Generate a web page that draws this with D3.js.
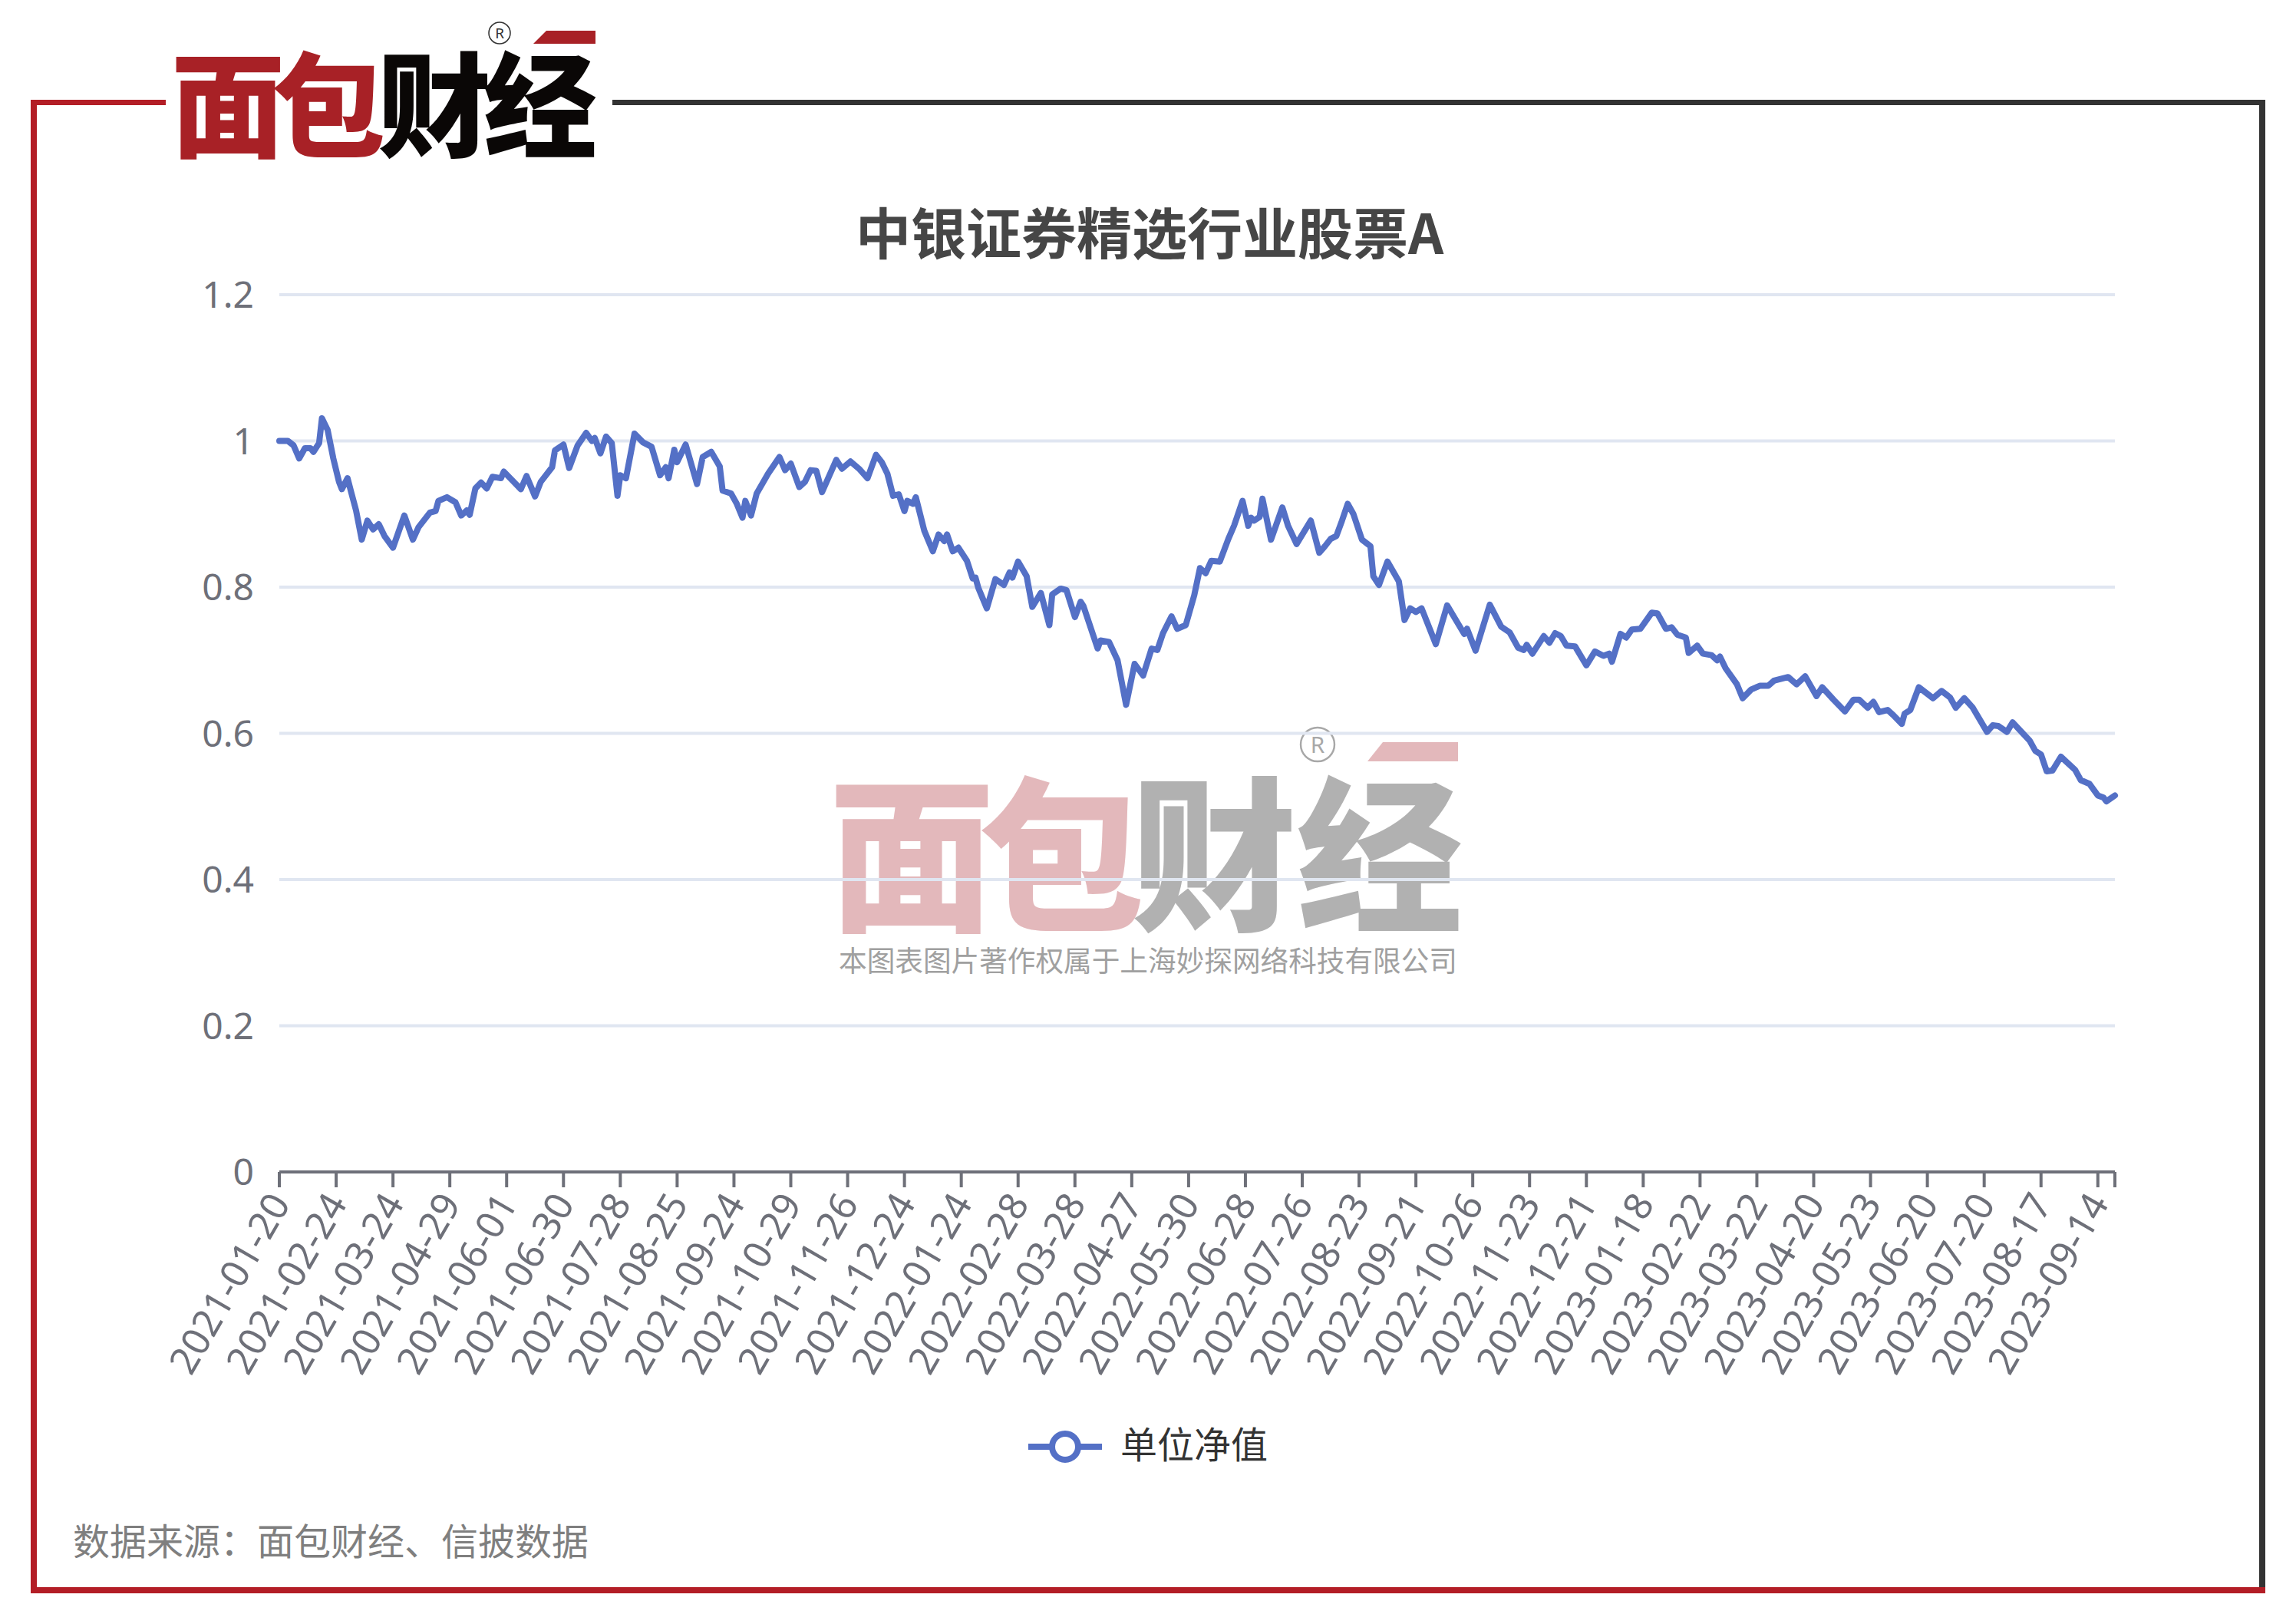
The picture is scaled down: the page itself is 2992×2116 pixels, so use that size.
<!DOCTYPE html>
<html>
<head>
<meta charset="utf-8">
<script src="https://cdn.jsdelivr.net/npm/d3@7/dist/d3.min.js"></script>
<style>
html,body{margin:0;padding:0;background:#fff;}
svg{display:block;}
</style>
</head>
<body>
<svg id="chart" width="2992" height="2116"></svg>
<script>
// ---------------- data ----------------
const chartTitle = "中银证券精选行业股票A";
const seriesName = "单位净值";
const sourceNote = "数据来源：面包财经、信披数据";
const watermarkNote = "本图表图片著作权属于上海妙探网络科技有限公司";

// trading-day index of the last category (0 = 2021-01-20)
const lastDayIndex = 646;
const tickStep = 20;
const tickLabels = ["2021-01-20","2021-02-24","2021-03-24","2021-04-29","2021-06-01","2021-06-30","2021-07-28","2021-08-25","2021-09-24","2021-10-29","2021-11-26","2021-12-24","2022-01-24","2022-02-28","2022-03-28","2022-04-27","2022-05-30","2022-06-28","2022-07-26","2022-08-23","2022-09-21","2022-10-26","2022-11-23","2022-12-21","2023-01-18","2023-02-22","2023-03-22","2023-04-20","2023-05-23","2023-06-20","2023-07-20","2023-08-17","2023-09-14"];
const yTicks = [0, 0.2, 0.4, 0.6, 0.8, 1, 1.2];

// NAV: trading-day index and unit NAV
const navDay = [0,3,5,7,9,11,12,14,15,17,19,21,22,24,25,27,29,31,33,35,37,40,44,47,49,53,55,56,59,62,64,66,67,69,71,73,75,78,79,83,85,87,90,92,96,97,100,102,105,108,110,111,113,115,117,119,120,122,125,128,131,134,136,137,139,140,143,147,149,152,155,156,159,161,163,164,166,168,172,176,178,180,183,185,187,189,191,196,198,201,204,207,210,212,214,216,218,220,221,223,224,227,230,232,234,235,237,239,242,244,245,246,249,252,255,257,258,260,263,265,268,271,272,275,277,280,282,283,288,289,292,295,298,301,304,307,309,311,314,316,319,322,324,326,328,331,334,336,339,341,342,343,345,346,349,353,355,358,363,366,368,370,372,374,376,378,381,384,385,387,390,394,396,398,400,402,407,411,417,418,421,426,430,433,436,438,439,441,445,447,449,451,453,456,460,463,466,468,469,472,474,476,479,483,485,488,490,492,495,496,499,501,504,506,507,509,513,515,518,521,524,526,531,534,537,541,543,547,551,554,556,559,561,563,566,568,571,572,574,577,582,585,588,590,593,596,601,603,605,608,610,616,618,620,622,624,627,632,634,637,640,642,643,646];
const navValue = [1.000,1.000,0.994,0.976,0.990,0.990,0.985,0.997,1.031,1.015,0.976,0.944,0.934,0.949,0.934,0.905,0.865,0.891,0.879,0.886,0.870,0.854,0.898,0.865,0.882,0.902,0.904,0.918,0.923,0.916,0.898,0.905,0.899,0.935,0.943,0.935,0.951,0.949,0.958,0.942,0.934,0.952,0.924,0.944,0.964,0.987,0.995,0.963,0.994,1.011,1.000,1.004,0.983,1.006,0.997,0.925,0.953,0.949,1.010,0.998,0.992,0.953,0.964,0.949,0.988,0.971,0.995,0.941,0.978,0.985,0.965,0.932,0.928,0.914,0.895,0.918,0.898,0.928,0.955,0.978,0.960,0.969,0.937,0.944,0.960,0.959,0.930,0.974,0.962,0.972,0.962,0.949,0.981,0.971,0.955,0.925,0.927,0.904,0.918,0.914,0.923,0.877,0.849,0.872,0.863,0.872,0.849,0.854,0.836,0.812,0.813,0.799,0.771,0.811,0.803,0.820,0.813,0.835,0.815,0.773,0.792,0.748,0.790,0.798,0.796,0.759,0.780,0.774,0.716,0.727,0.725,0.700,0.639,0.695,0.679,0.716,0.714,0.737,0.760,0.743,0.748,0.789,0.826,0.819,0.836,0.835,0.866,0.884,0.918,0.884,0.895,0.891,0.896,0.921,0.865,0.909,0.884,0.859,0.891,0.847,0.856,0.866,0.870,0.891,0.914,0.900,0.865,0.856,0.815,0.803,0.835,0.808,0.755,0.771,0.766,0.771,0.722,0.775,0.736,0.743,0.713,0.776,0.746,0.738,0.717,0.714,0.721,0.709,0.733,0.724,0.737,0.733,0.720,0.719,0.693,0.712,0.706,0.709,0.698,0.736,0.731,0.742,0.743,0.765,0.764,0.743,0.745,0.735,0.731,0.710,0.720,0.709,0.707,0.700,0.705,0.689,0.667,0.648,0.660,0.665,0.665,0.672,0.677,0.667,0.678,0.651,0.663,0.646,0.630,0.646,0.646,0.635,0.643,0.629,0.632,0.625,0.613,0.627,0.632,0.663,0.648,0.658,0.649,0.635,0.648,0.635,0.602,0.611,0.610,0.602,0.615,0.590,0.576,0.571,0.548,0.549,0.568,0.550,0.536,0.531,0.515,0.512,0.507,0.515];

// ---------------- drawing ----------------
const svg = d3.select("#chart");
const RED = "#B31E26", DARK = "#333333", BLUE = "#5470C6";
const CJK = "'Noto Sans CJK SC','Noto Sans',sans-serif";
const LAT = "'Noto Sans','Noto Sans CJK SC',sans-serif";

svg.append("rect").attr("width", 2992).attr("height", 2116).attr("fill", "#fff");

// frame
svg.append("rect").attr("x", 40).attr("y", 130).attr("width", 8).attr("height", 1946).attr("fill", RED);
svg.append("rect").attr("x", 40).attr("y", 130).attr("width", 176).attr("height", 7).attr("fill", RED);
svg.append("rect").attr("x", 798).attr("y", 130).attr("width", 2154).attr("height", 7).attr("fill", DARK);
svg.append("rect").attr("x", 2944).attr("y", 130).attr("width", 8).attr("height", 1946).attr("fill", DARK);
svg.append("rect").attr("x", 40).attr("y", 2068).attr("width", 2912).attr("height", 8).attr("fill", RED);

// logo helper
function logo(g, cfg) {
  const chars = ["面", "包", "财", "经"];
  chars.forEach((c, i) => {
    g.append("text")
      .attr("x", cfg.cx[i]).attr("y", cfg.baseline)
      .attr("text-anchor", "middle")
      .attr("font-family", CJK).attr("font-weight", 900)
      .attr("font-size", cfg.size)
      .attr("fill", i < 2 ? cfg.red : cfg.black)
      .attr("fill-opacity", cfg.opacity)
      .text(c);
  });
  g.append("polygon").attr("points", cfg.bar.map(p => p.join(",")).join(" "))
    .attr("fill", cfg.red).attr("fill-opacity", cfg.opacity);
  g.append("circle").attr("cx", cfg.reg[0]).attr("cy", cfg.reg[1]).attr("r", cfg.reg[2])
    .attr("fill", "none").attr("stroke", cfg.regColor).attr("stroke-width", cfg.reg[2] / 9);
  g.append("text").attr("x", cfg.reg[0]).attr("y", cfg.reg[1])
    .attr("dy", "0.36em").attr("text-anchor", "middle")
    .attr("font-family", LAT).attr("font-size", cfg.reg[2] * 1.35)
    .attr("fill", cfg.regColor).text("R");
}

// watermark (under grid)
const wm = svg.append("g");
logo(wm, {
  cx: [1188, 1383, 1582, 1798], baseline: 1196, size: 216,
  red: "#E0B0B4", black: "#A9A9A9", opacity: 0.9,
  bar: [[1782, 992], [1802, 967], [1900, 967], [1900, 992]],
  reg: [1717, 970, 22], regColor: "#A8A8A8"
});
wm.append("text").attr("x", 1496).attr("y", 1266)
  .attr("text-anchor", "middle").attr("font-family", CJK)
  .attr("font-size", 37).attr("fill", "#A0A0A0")
  .attr("textLength", 806).attr("lengthAdjust", "spacingAndGlyphs")
  .text(watermarkNote);

// top logo
logo(svg.append("g"), {
  cx: [297, 428, 566, 704], baseline: 193, size: 148,
  red: "#A82126", black: "#0A0706", opacity: 1,
  bar: [[695, 57], [712, 40], [776, 40], [776, 57]],
  reg: [651, 43, 14], regColor: "#333"
});

// scales
const x = d3.scaleLinear().domain([0, lastDayIndex]).range([364, 2756]);
const y = d3.scaleLinear().domain([0, 1.2]).range([1527, 384]);

// grid
svg.append("g").selectAll("line").data(yTicks.filter(v => v > 0)).join("line")
  .attr("x1", x(0)).attr("x2", x(lastDayIndex))
  .attr("y1", d => y(d)).attr("y2", d => y(d))
  .attr("stroke", "#E0E6F1").attr("stroke-width", 4);

// y labels
svg.append("g").selectAll("text").data(yTicks).join("text")
  .attr("x", 331).attr("y", d => y(d)).attr("dy", "0.36em")
  .attr("text-anchor", "end").attr("font-family", LAT)
  .attr("font-size", 48).attr("fill", "#6E7079")
  .text(d => d3.format("~g")(d));

// x axis
const xAxis = svg.append("g");
xAxis.append("line").attr("x1", x(0)).attr("x2", x(lastDayIndex))
  .attr("y1", y(0)).attr("y2", y(0)).attr("stroke", "#6E7079").attr("stroke-width", 4);
const tickIdx = tickLabels.map((_, i) => i * tickStep).concat([lastDayIndex]);
xAxis.selectAll("line.tick").data(tickIdx).join("line").attr("class", "tick")
  .attr("x1", d => x(d)).attr("x2", d => x(d))
  .attr("y1", y(0)).attr("y2", y(0) + 20)
  .attr("stroke", "#6E7079").attr("stroke-width", 4);
xAxis.selectAll("text").data(tickLabels).join("text")
  .attr("transform", (d, i) => `translate(${x(i * tickStep)},${y(0) + 32}) rotate(-60)`)
  .attr("text-anchor", "end").attr("dy", "0.36em")
  .attr("font-family", LAT).attr("font-size", 50).attr("fill", "#6E7079")
  .text(d => d);

// line
const pts = navDay.map((d, i) => [d, navValue[i]]);
svg.append("path").datum(pts)
  .attr("d", d3.line().x(d => x(d[0])).y(d => y(d[1])))
  .attr("fill", "none").attr("stroke", BLUE).attr("stroke-width", 8)
  .attr("stroke-linejoin", "round").attr("stroke-linecap", "round");

// title
svg.append("text").attr("x", 1498).attr("y", 331)
  .attr("text-anchor", "middle").attr("font-family", CJK)
  .attr("font-weight", "bold").attr("font-size", 72).attr("fill", "#464646")
  .text(chartTitle);

// legend
const lg = svg.append("g");
lg.append("line").attr("x1", 1340).attr("x2", 1436).attr("y1", 1885).attr("y2", 1885)
  .attr("stroke", BLUE).attr("stroke-width", 8);
lg.append("circle").attr("cx", 1388).attr("cy", 1885).attr("r", 17)
  .attr("fill", "#fff").attr("stroke", BLUE).attr("stroke-width", 8);
lg.append("text").attr("x", 1460).attr("y", 1900)
  .attr("font-family", CJK).attr("font-size", 48).attr("fill", "#333")
  .text(seriesName);

// source note
svg.append("text").attr("x", 95).attr("y", 2026)
  .attr("font-family", CJK).attr("font-size", 48).attr("fill", "#7F7F7F")
  .attr("textLength", 672).attr("lengthAdjust", "spacingAndGlyphs")
  .text(sourceNote);
</script>
</body>
</html>
